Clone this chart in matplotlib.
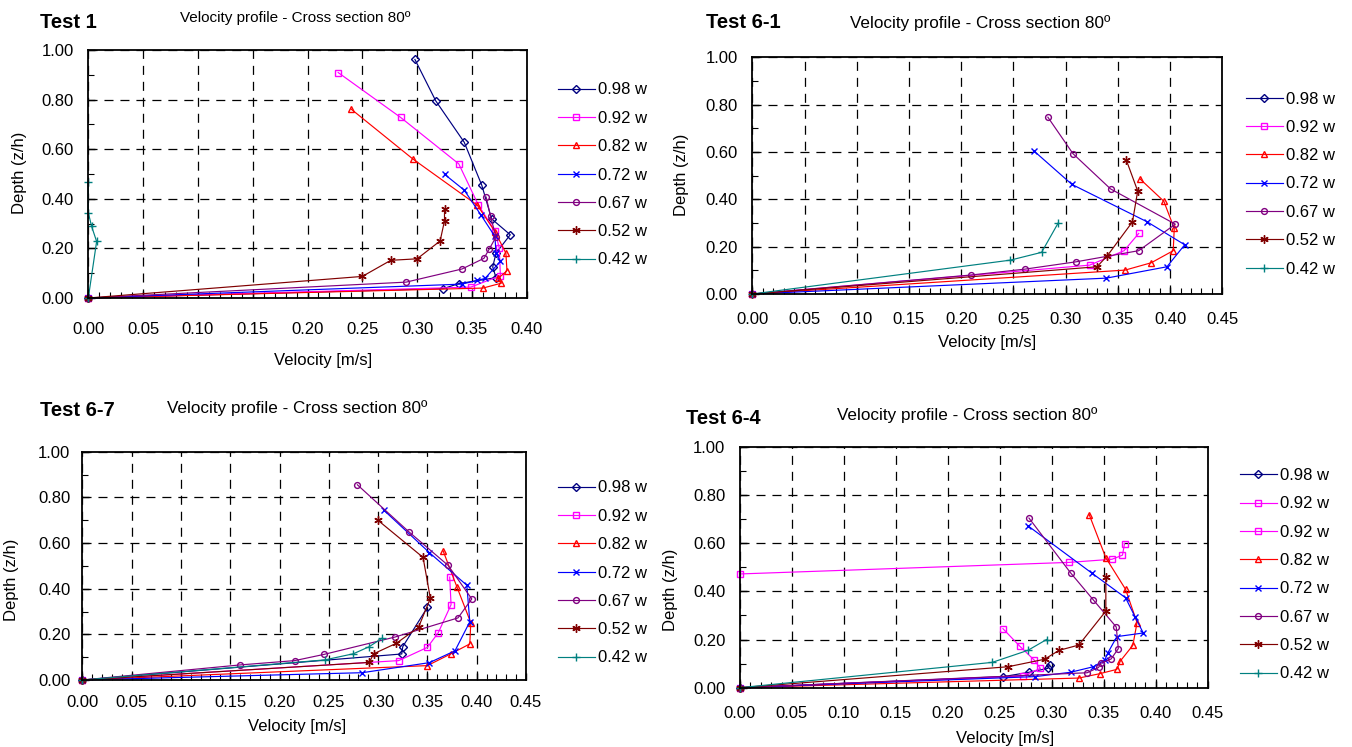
import matplotlib
matplotlib.use("Agg")
import matplotlib.pyplot as plt
from matplotlib.ticker import MultipleLocator, FormatStrFormatter

plt.rcParams['font.family'] = ['Liberation Sans', 'DejaVu Sans']
plt.rcParams['lines.scale_dashes'] = False

# ---------------- data ----------------
LABELS = ['0.98 w', '0.92 w', '0.82 w', '0.72 w', '0.67 w', '0.52 w', '0.42 w']
LABELS_T64 = ['0.98 w', '0.92 w', '0.92 w', '0.82 w', '0.72 w', '0.67 w', '0.52 w', '0.42 w']

# Test 1
T1_V_098 = [0, 0.324, 0.338, 0.372, 0.369, 0.372, 0.385, 0.368, 0.359, 0.343, 0.317, 0.298]
T1_Z_098 = [0, 0.038, 0.058, 0.082, 0.125, 0.181, 0.255, 0.319, 0.455, 0.628, 0.795, 0.962]
T1_V_092 = [0, 0.349, 0.376, 0.375, 0.371, 0.356, 0.338, 0.285, 0.228]
T1_Z_092 = [0, 0.044, 0.090, 0.201, 0.271, 0.374, 0.541, 0.728, 0.909]
T1_V_082 = [0, 0.360, 0.377, 0.374, 0.382, 0.381, 0.371, 0.355, 0.296, 0.240]
T1_Z_082 = [0, 0.040, 0.060, 0.079, 0.110, 0.181, 0.268, 0.374, 0.561, 0.761]
T1_V_072 = [0, 0.341, 0.355, 0.362, 0.376, 0.372, 0.371, 0.3585, 0.343, 0.325]
T1_Z_072 = [0, 0.056, 0.071, 0.079, 0.148, 0.181, 0.248, 0.333, 0.435, 0.499]
T1_V_067 = [0, 0.290, 0.341, 0.361, 0.366, 0.372, 0.367, 0.363]
T1_Z_067 = [0, 0.064, 0.117, 0.160, 0.199, 0.246, 0.329, 0.407]
T1_V_052 = [0, 0.250, 0.276, 0.300, 0.321, 0.325, 0.325]
T1_Z_052 = [0, 0.087, 0.152, 0.158, 0.230, 0.311, 0.358]
T1_V_042 = [0, 0.0076, 0.003, 0.0, 0.0]
T1_Z_042 = [0, 0.228, 0.289, 0.344, 0.467]

# Test 6-1
T61_V_098 = []
T61_Z_098 = []
T61_V_092 = [0, 0.323, 0.356, 0.370]
T61_Z_092 = [0, 0.122, 0.183, 0.256]
T61_V_082 = [0, 0.357, 0.382, 0.403, 0.404, 0.394, 0.371]
T61_Z_082 = [0, 0.101, 0.132, 0.183, 0.277, 0.392, 0.487]
T61_V_072 = [0, 0.339, 0.397, 0.414, 0.378, 0.306, 0.270]
T61_Z_072 = [0, 0.067, 0.115, 0.208, 0.305, 0.463, 0.603]
T61_V_067 = [0, 0.209, 0.261, 0.310, 0.370, 0.405, 0.343, 0.307, 0.283]
T61_Z_067 = [0, 0.080, 0.105, 0.136, 0.183, 0.295, 0.444, 0.593, 0.747]
T61_V_052 = [0, 0.330, 0.340, 0.364, 0.369, 0.358]
T61_Z_052 = [0, 0.115, 0.162, 0.305, 0.435, 0.567]
T61_V_042 = [0, 0.247, 0.277, 0.293]
T61_Z_042 = [0, 0.143, 0.176, 0.301]

# Test 6-7
T67_V_098 = [0, 0.324, 0.325, 0.350]
T67_Z_098 = [0, 0.114, 0.146, 0.318]
T67_V_092 = [0, 0.321, 0.350, 0.361, 0.374, 0.3726]
T67_Z_092 = [0, 0.085, 0.143, 0.207, 0.330, 0.451]
T67_V_082 = [0, 0.350, 0.374, 0.393, 0.394, 0.380, 0.366]
T67_Z_082 = [0, 0.063, 0.115, 0.158, 0.251, 0.407, 0.565]
T67_V_072 = [0, 0.284, 0.352, 0.378, 0.393, 0.390, 0.352, 0.306]
T67_Z_072 = [0, 0.032, 0.076, 0.128, 0.255, 0.415, 0.558, 0.743]
T67_V_067 = [0, 0.160, 0.2155, 0.245, 0.317, 0.381, 0.395, 0.371, 0.331, 0.279]
T67_Z_067 = [0, 0.066, 0.085, 0.112, 0.188, 0.272, 0.355, 0.502, 0.650, 0.855]
T67_V_052 = [0, 0.291, 0.2956, 0.3186, 0.341, 0.353, 0.3456, 0.300]
T67_Z_052 = [0, 0.077, 0.115, 0.161, 0.231, 0.358, 0.537, 0.699]
T67_V_042 = [0, 0.246, 0.275, 0.291, 0.3037]
T67_Z_042 = [0, 0.088, 0.115, 0.146, 0.182]

# Test 6-4
T64_V_098 = [0, 0.2535, 0.278, 0.296, 0.298]
T64_Z_098 = [0, 0.046, 0.064, 0.080, 0.094]
T64_V_092A = [0, 0.272, 0.289, 0.283, 0.269, 0.253]
T64_Z_092A = [0, 0.048, 0.080, 0.115, 0.173, 0.245]
T64_V_092B = [0.0, 0.317, 0.358, 0.368, 0.370]
T64_Z_092B = [0.472, 0.520, 0.533, 0.550, 0.598]
T64_V_082 = [0, 0.326, 0.346, 0.3626, 0.366, 0.378, 0.382, 0.371, 0.352, 0.336]
T64_Z_082 = [0, 0.040, 0.058, 0.076, 0.111, 0.176, 0.270, 0.408, 0.539, 0.718]
T64_V_072 = [0, 0.284, 0.318, 0.340, 0.351, 0.354, 0.3626, 0.388, 0.380, 0.371, 0.339, 0.277]
T64_Z_072 = [0, 0.046, 0.064, 0.087, 0.115, 0.145, 0.212, 0.227, 0.295, 0.373, 0.474, 0.672]
T64_V_067 = [0, 0.334, 0.345, 0.347, 0.357, 0.364, 0.362, 0.340, 0.318, 0.278]
T64_Z_067 = [0, 0.062, 0.084, 0.101, 0.119, 0.162, 0.252, 0.364, 0.477, 0.704]
T64_V_052 = [0, 0.258, 0.293, 0.307, 0.326, 0.352, 0.352]
T64_Z_052 = [0, 0.087, 0.118, 0.155, 0.177, 0.318, 0.459]
T64_V_042 = [0, 0.2426, 0.277, 0.295]
T64_Z_042 = [0, 0.105, 0.155, 0.200]

TITLES = ['Test 1', 'Test 6-1', 'Test 6-7', 'Test 6-4']
SUBTITLE = 'Velocity profile - Cross section 80º'
XLABEL = 'Velocity [m/s]'
YLABEL = 'Depth (z/h)'

# ---------------- styles ----------------
STY = {
    '098': dict(color='#000080', marker='D', ms=3.6, mfc='none'),
    '092': dict(color='#FF00FF', marker='s', ms=4.2, mfc='none'),
    '082': dict(color='#FF0000', marker='^', ms=4.8, mfc='none'),
    '072': dict(color='#0000FF', marker='x', ms=5.0),
    '067': dict(color='#800080', marker='o', ms=4.2, mfc='none'),
    '052': dict(color='#800000', marker=(6, 2, 0), ms=6.0),
    '042': dict(color='#008080', marker='+', ms=5.5),
}

W, H = 1352, 747
fig = plt.figure(figsize=(W / 100, H / 100), dpi=100)


def box(l, t, r, b):
    return [l / W, 1 - b / H, (r - l) / W, (b - t) / H]


def fx(x):
    return x / W


def fy(y):
    return 1 - y / H


def style_axes(ax, xmax, xpad, ypad):
    ax.set_xlim(0, xmax)
    ax.set_ylim(0, 1.0)
    ax.xaxis.set_major_locator(MultipleLocator(0.05))
    ax.xaxis.set_minor_locator(MultipleLocator(0.01))
    ax.yaxis.set_major_locator(MultipleLocator(0.2))
    ax.yaxis.set_minor_locator(MultipleLocator(0.1))
    ax.xaxis.set_major_formatter(FormatStrFormatter('%.2f'))
    ax.yaxis.set_major_formatter(FormatStrFormatter('%.2f'))
    ax.tick_params(which='both', direction='in', colors='black', labelsize=12)
    ax.tick_params(which='major', length=5, width=1)
    ax.tick_params(which='minor', length=4, width=0.8)
    ax.tick_params(axis='x', pad=xpad)
    ax.tick_params(axis='y', pad=ypad)
    ax.grid(True, which='major', color='black', linestyle=(0, (6.5, 5)), linewidth=0.9)
    for s in ax.spines.values():
        s.set_color('black')
        s.set_linewidth(1.3)
    ax.set_axisbelow(True)


def draw(ax, v, z, key, label):
    st = STY[key]
    ax.plot(v, z, color=st['color'], lw=0.85, marker=st['marker'], ms=st['ms'],
            mfc=st.get('mfc', st['color']), mec=st['color'], mew=1.0,
            label=label, clip_on=False)


def legend(ax, x, y):
    fig.legend(handles=ax.get_lines(), loc='upper left',
               bbox_to_anchor=(fx(x), fy(y)), bbox_transform=fig.transFigure,
               frameon=False, fontsize=12, labelspacing=0.80, handlelength=2.2,
               handletextpad=0.2, borderpad=0, borderaxespad=0)


# ---- Test 1
ax1 = fig.add_axes(box(88.3, 50, 526.7, 298))
style_axes(ax1, 0.40, 17, 10.5)
draw(ax1, T1_V_098, T1_Z_098, '098', LABELS[0])
draw(ax1, T1_V_092, T1_Z_092, '092', LABELS[1])
draw(ax1, T1_V_082, T1_Z_082, '082', LABELS[2])
draw(ax1, T1_V_072, T1_Z_072, '072', LABELS[3])
draw(ax1, T1_V_067, T1_Z_067, '067', LABELS[4])
draw(ax1, T1_V_052, T1_Z_052, '052', LABELS[5])
draw(ax1, T1_V_042, T1_Z_042, '042', LABELS[6])
legend(ax1, 558, 82.5)

# ---- Test 6-1
ax2 = fig.add_axes(box(752.3, 57.3, 1222.3, 294))
style_axes(ax2, 0.45, 12.6, 10.5)
draw(ax2, T61_V_098, T61_Z_098, '098', LABELS[0])
draw(ax2, T61_V_092, T61_Z_092, '092', LABELS[1])
draw(ax2, T61_V_082, T61_Z_082, '082', LABELS[2])
draw(ax2, T61_V_072, T61_Z_072, '072', LABELS[3])
draw(ax2, T61_V_067, T61_Z_067, '067', LABELS[4])
draw(ax2, T61_V_052, T61_Z_052, '052', LABELS[5])
draw(ax2, T61_V_042, T61_Z_042, '042', LABELS[6])
legend(ax2, 1246, 91.5)

# ---- Test 6-7
ax3 = fig.add_axes(box(82.3, 451.7, 526.0, 680))
style_axes(ax3, 0.45, 11, 8.5)
draw(ax3, T67_V_098, T67_Z_098, '098', LABELS[0])
draw(ax3, T67_V_092, T67_Z_092, '092', LABELS[1])
draw(ax3, T67_V_082, T67_Z_082, '082', LABELS[2])
draw(ax3, T67_V_072, T67_Z_072, '072', LABELS[3])
draw(ax3, T67_V_067, T67_Z_067, '067', LABELS[4])
draw(ax3, T67_V_052, T67_Z_052, '052', LABELS[5])
draw(ax3, T67_V_042, T67_Z_042, '042', LABELS[6])
legend(ax3, 558, 480.5)

# ---- Test 6-4
ax4 = fig.add_axes(box(740, 446.7, 1207.7, 687.7))
style_axes(ax4, 0.45, 13.3, 10.5)
draw(ax4, T64_V_098, T64_Z_098, '098', LABELS_T64[0])
draw(ax4, T64_V_092A, T64_Z_092A, '092', LABELS_T64[1])
draw(ax4, T64_V_092B, T64_Z_092B, '092', LABELS_T64[2])
draw(ax4, T64_V_082, T64_Z_082, '082', LABELS_T64[3])
draw(ax4, T64_V_072, T64_Z_072, '072', LABELS_T64[4])
draw(ax4, T64_V_067, T64_Z_067, '067', LABELS_T64[5])
draw(ax4, T64_V_052, T64_Z_052, '052', LABELS_T64[6])
draw(ax4, T64_V_042, T64_Z_042, '042', LABELS_T64[7])
legend(ax4, 1240, 468)

# ---- texts
# (title_x_left, title_y, subtitle_cx, subtitle_y, sub_size, ylabel_x, ylabel_y, xlabel_x, xlabel_y)
TXT = [
    (40, 22, 295, 18, 11.0, 20, 173, 323, 361),
    (706, 22, 980, 23, 12.3, 681, 175, 987, 343),
    (40, 410, 297, 408, 12.3, 12, 580, 297, 727),
    (686, 418, 967, 415, 12.3, 671, 590, 1005, 738),
]
for title, (tx, ty, sx, sy, ss, yx, yy, xx, xy) in zip(TITLES, TXT):
    fig.text(fx(tx), fy(ty), title, fontsize=14.5, fontweight='bold', ha='left', va='center')
    fig.text(fx(sx), fy(sy), SUBTITLE, fontsize=ss, ha='center', va='center')
    fig.text(fx(yx), fy(yy), YLABEL, fontsize=12, rotation=90, ha='center', va='center')
    fig.text(fx(xx), fy(xy), XLABEL, fontsize=12, ha='center', va='center')

fig.savefig('out.png', dpi=100)
